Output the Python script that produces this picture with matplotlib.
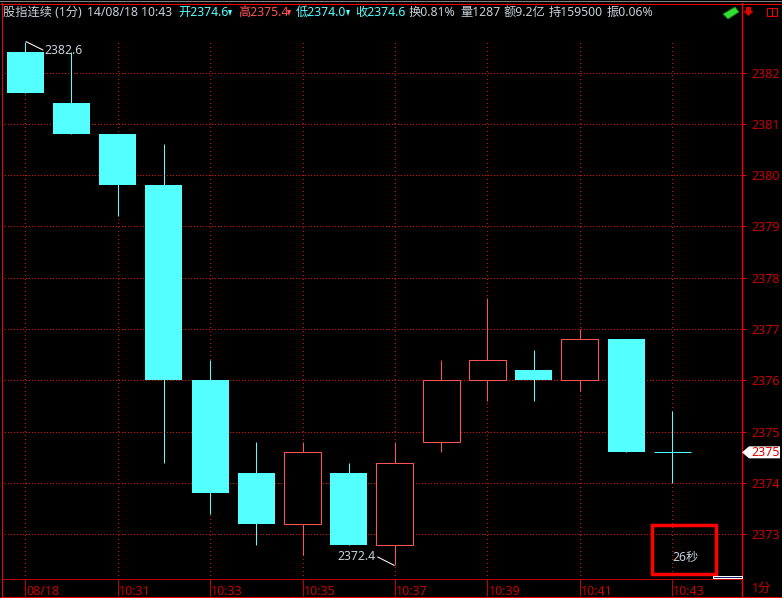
import matplotlib
matplotlib.use("Agg")
import matplotlib.pyplot as plt
from matplotlib.patches import Rectangle, Polygon
from matplotlib.transforms import ScaledTranslation

plt.rcParams['font.family'] = ['Noto Sans', 'Noto Sans CJK SC', 'DejaVu Sans']

opens  = [2382.4, 2381.4, 2380.8, 2379.8, 2376.0, 2374.2, 2373.2, 2374.2, 2372.8, 2374.8, 2376.0, 2376.2, 2376.0, 2376.8, 2374.6]
highs  = [2382.6, 2382.4, 2380.8, 2380.6, 2376.4, 2374.8, 2374.8, 2374.4, 2374.8, 2376.4, 2377.6, 2376.6, 2377.0, 2376.8, 2375.4]
lows   = [2381.6, 2380.8, 2379.2, 2374.4, 2373.4, 2372.8, 2372.6, 2372.8, 2372.4, 2374.6, 2375.6, 2375.6, 2375.8, 2374.6, 2374.0]
closes = [2381.6, 2380.8, 2379.8, 2376.0, 2373.8, 2373.2, 2374.6, 2372.8, 2374.4, 2376.0, 2376.4, 2376.0, 2376.8, 2374.6, 2374.6]
time_ticks = [0, 2, 4, 6, 8, 10, 12, 14]
time_labels = ['08/18', '10:31', '10:33', '10:35', '10:37', '10:39', '10:41', '10:43']
price_ticks = [2382, 2381, 2380, 2379, 2378, 2377, 2376, 2375, 2374, 2373]
last_price = 2374.6

W, H = 782, 598
CYAN = '#54ffff'; RED = '#ff5454'; AXR = '#f00000'; LAB = '#c80000'; GRID = '#f00000'; TXT = '#c8d0d8'
FS = 8.8
LW = 0.75

fig = plt.figure(figsize=(W/100, H/100), dpi=100, facecolor='black')

# pixel geometry of the plot area
L, R, T, B = 2, 742, 3, 579
ax = fig.add_axes([L/W, 1-B/H, (R-L)/W, (B-T)/H], facecolor='black')
px_per_bar = 46.22; x0 = 25.2
px_per_unit = 51.33; y0 = 72.5
ax.set_xlim((L-x0)/px_per_bar, (R-x0)/px_per_bar)
ax.set_ylim(2382-(B-y0)/px_per_unit, 2382+(y0-T)/px_per_unit)

for p in price_ticks:
    ax.axhline(p, color=GRID, lw=0.72, ls=(0, (1, 2.4)), zorder=1, antialiased=False)
for t in time_ticks:
    ax.plot([t, t], [ax.get_ylim()[0], 2382+(y0-40)/px_per_unit], color=GRID, lw=0.72,
            ls=(0, (1, 3)), zorder=1, antialiased=False)

W_BODY = 0.80
for i, (o, h, l, c) in enumerate(zip(opens, highs, lows, closes)):
    col = RED if c > o else CYAN
    ax.vlines(i, l, h, color=col, lw=LW, zorder=2)
    if c > o:
        ax.add_patch(Rectangle((i-W_BODY/2, o), W_BODY, c-o, fc='black', ec=col, lw=LW, zorder=3))
    elif c < o:
        ax.add_patch(Rectangle((i-W_BODY/2, c), W_BODY, o-c, fc=col, ec='none', zorder=3))
    else:
        ax.hlines(o, i-W_BODY/2, i+W_BODY/2, color=col, lw=LW, zorder=3)

# high / low annotations
ihi = highs.index(max(highs)); ilo = lows.index(min(lows))
ax.plot([ihi+0.02, ihi+0.38], [highs[ihi], highs[ihi]-0.16], color='white', lw=LW, zorder=4)
ax.text(ihi+0.42, highs[ihi]-0.17, f'{highs[ihi]:.1f}', color=TXT, fontsize=FS, va='center', ha='left', zorder=5)
ax.plot([ilo-0.37, ilo-0.02], [lows[ilo]+0.16, lows[ilo]], color='white', lw=LW, zorder=4)
ax.text(ilo-0.43, lows[ilo]+0.17, f'{lows[ilo]:.1f}', color=TXT, fontsize=FS, va='center', ha='right', zorder=5)

# axes and ticks
for s in ax.spines.values():
    s.set_visible(False)
ax.spines['right'].set_visible(True); ax.spines['right'].set_color(AXR); ax.spines['right'].set_linewidth(1.0)
ax.spines['bottom'].set_visible(True); ax.spines['bottom'].set_color('#c00000'); ax.spines['bottom'].set_linewidth(LW)
ax.yaxis.tick_right()
ax.set_yticks(price_ticks)
ax.set_yticklabels([str(p) for p in price_ticks], color=LAB, fontsize=FS+0.2)
ax.tick_params(axis='y', length=3, width=LW, color=AXR, pad=4)
ax.set_xticks(time_ticks)
ax.set_xticklabels(time_labels, color=LAB, fontsize=FS+0.2, ha='left')
ax.tick_params(axis='x', length=12.2, width=LW, color='#c00000', pad=-8)
for lb in ax.get_xticklabels():
    lb.set_transform(lb.get_transform() + ScaledTranslation(1/100, 0, fig.dpi_scale_trans))

# overlay in pixel coordinates for the window furniture
ov = fig.add_axes([0, 0, 1, 1], facecolor='none')
ov.set_xlim(0, W); ov.set_ylim(H, 0); ov.axis('off')
ov.plot([0, W], [0.5, 0.5], color='#808080', lw=LW)
ov.plot([1.5, 1.5], [3, 596], color='#f00000', lw=LW)
ov.plot([1, W], [3.5, 3.5], color='#f00000', lw=LW)
ov.plot([1, W], [596.5, 596.5], color='#f00000', lw=LW)
ov.plot([742, 742], [579, 596], color=AXR, lw=1.0)

# header
segs = [(3, '股指连续 (1分)', TXT), (87, '14/08/18 10:43', TXT),
        (178, '开2374.6', CYAN), (238, '高2375.4', RED), (296, '低2374.0', CYAN), (355, '收2374.6', CYAN),
        (409, '换0.81%', TXT), (460, '量1287', TXT), (504, '额9.2亿', TXT), (549, '持159500', TXT), (607, '振0.06%', TXT)]
for x, s, c in segs:
    ov.text(x, 12.5, s, color=c, fontsize=FS, va='center', ha='left')
for x, c in [(230, CYAN), (289, RED), (348, CYAN)]:
    ov.add_patch(Polygon([[x-2, 10], [x+2, 10], [x, 16]], fc=c, ec='none'))

# top-right icons
ov.add_patch(Polygon([[723, 14], [735, 7], [739, 12], [728, 19]], fc='#30e030', ec='#108010', lw=0.6))
ov.add_patch(Rectangle((746, 7), 5, 6, fc='#e00000', ec='none'))
ov.add_patch(Polygon([[743.5, 11], [753.5, 11], [748.5, 16]], fc='#e00000', ec='none'))
ov.add_patch(Rectangle((766.5, 7.5), 5, 8, fc='none', ec='#f00000', lw=LW))
ov.add_patch(Rectangle((771.5, 7.5), 5, 8, fc='none', ec='#f00000', lw=LW))

# last-price tag
yp = y0 + (2382 - last_price) * px_per_unit
ov.add_patch(Polygon([[742, yp], [749, yp-6], [780, yp-6], [780, yp+6], [749, yp+6]], fc='white', ec='none'))
ov.text(751, yp, str(round(last_price)), color='#e80000', fontsize=FS+0.2, va='center', ha='left')

# bottom-right status
ov.add_patch(Rectangle((651.5, 524.5), 64, 49, fc='none', ec='#ff0000', lw=2.5))
ov.text(672, 557, '26秒', color=TXT, fontsize=FS, va='center', ha='left')
ov.add_patch(Rectangle((712.5, 575.5), 29, 2, fc='#101860', ec='white', lw=LW))
ov.text(752, 588, '1分', color=LAB, fontsize=FS+0.2, va='center', ha='left')

fig.savefig('out.png', dpi=100, facecolor='black')
